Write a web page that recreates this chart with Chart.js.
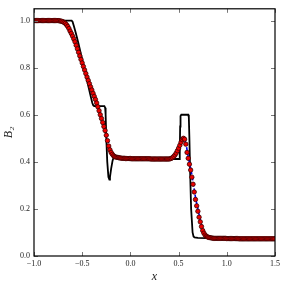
<!DOCTYPE html>
<html>
<head>
<meta charset="utf-8">
<script src="https://cdn.jsdelivr.net/npm/chart.js@4.4.1/dist/chart.umd.min.js"></script>
<style>
  html, body { margin: 0; padding: 0; background: #fff; }
  #grafico { display: block; }
</style>
</head>
<body>
<canvas id="grafico" width="288" height="288"></canvas>
<script>
// ejes
const xMin = -1.0, xMax = 1.5, xPaso = 0.5;
const yMin = 0.0, yMax = 1.05, yPaso = 0.2;

// solución de referencia (línea negra, nítida)
const negroX = [-1.0, -0.61, -0.6, -0.585, -0.565, -0.54, -0.5, -0.45, -0.41, -0.395, -0.385, -0.375,
  -0.27, -0.262, -0.257, -0.25, -0.24, -0.228, -0.218, -0.212, -0.2, -0.185, -0.175, -0.15, -0.1,
  0.0, 0.2, 0.505, 0.512, 0.516, 0.52, 0.528, 0.6, 0.606, 0.612, 0.62, 0.63, 0.645, 0.655, 0.665,
  0.7, 0.8, 1.0, 1.5];
const negroY = [1.0, 1.0, 0.995, 0.975, 0.945, 0.905, 0.835, 0.745, 0.675, 0.65, 0.64, 0.637,
  0.637, 0.63, 0.6, 0.5, 0.4, 0.335, 0.325, 0.335, 0.37, 0.405, 0.418, 0.418, 0.415,
  0.413, 0.412, 0.412, 0.43, 0.55, 0.595, 0.6, 0.6, 0.59, 0.5, 0.35, 0.2, 0.1, 0.083, 0.079,
  0.077, 0.076, 0.075, 0.075];

// línea azul discontinua
const azulX = [-1.0, -0.75, -0.7, -0.65, -0.6, -0.55, -0.5, -0.45, -0.4, -0.35, -0.3, -0.25, -0.225,
  -0.2, -0.175, -0.15, -0.1, 0.0, 0.4, 0.45, 0.5, 0.55, 0.575, 0.6, 0.625, 0.65, 0.675, 0.7,
  0.725, 0.75, 0.775, 0.8, 0.85, 0.9, 1.5];
const azulY = [1.0, 1.0, 0.996, 0.978, 0.937, 0.884, 0.824, 0.765, 0.71, 0.655, 0.59, 0.52, 0.478,
  0.445, 0.428, 0.421, 0.416, 0.414, 0.412, 0.422, 0.455, 0.497, 0.478, 0.422, 0.372, 0.315, 0.25, 0.2,
  0.153, 0.114, 0.092, 0.082, 0.076, 0.074, 0.073];

// puntos rojos
const rojoX = [
  -1.0, -0.9875, -0.975, -0.9625, -0.95, -0.9375, -0.925, -0.9125, -0.9, -0.8875,
  -0.875, -0.8625, -0.85, -0.8375, -0.825, -0.8125, -0.8, -0.7875, -0.775, -0.7625,
  -0.75, -0.7375, -0.725, -0.7125, -0.7, -0.6875, -0.675, -0.6625, -0.65, -0.6375,
  -0.625, -0.6125, -0.6, -0.5875, -0.575, -0.5625, -0.55, -0.5375, -0.525, -0.5125,
  -0.5, -0.4875, -0.475, -0.4625, -0.45, -0.4375, -0.425, -0.4125, -0.4, -0.3875,
  -0.375, -0.3625, -0.35, -0.3375, -0.325, -0.3125, -0.3, -0.2875, -0.275, -0.2625,
  -0.25, -0.2375, -0.225, -0.2125, -0.2, -0.1875, -0.175, -0.1625, -0.15, -0.1375,
  -0.125, -0.1125, -0.1, -0.0875, -0.075, -0.0625, -0.05, -0.0375, -0.025, -0.0125,
  0.0, 0.0125, 0.025, 0.0375, 0.05, 0.0625, 0.075, 0.0875, 0.1, 0.1125,
  0.125, 0.1375, 0.15, 0.1625, 0.175, 0.1875, 0.2, 0.2125, 0.225, 0.2375,
  0.25, 0.2625, 0.275, 0.2875, 0.3, 0.3125, 0.325, 0.3375, 0.35, 0.3625,
  0.375, 0.3875, 0.4, 0.4125, 0.425, 0.4375, 0.45, 0.4625, 0.475, 0.4875,
  0.5, 0.5125, 0.525, 0.5375, 0.55, 0.5625, 0.575, 0.5875, 0.6, 0.6125,
  0.625, 0.6375, 0.65, 0.6625, 0.675, 0.6875, 0.7, 0.7125, 0.725, 0.7375,
  0.75, 0.7625, 0.775, 0.7875, 0.8, 0.8125, 0.825, 0.8375, 0.85, 0.8625,
  0.875, 0.8875, 0.9, 0.9125, 0.925, 0.9375, 0.95, 0.9625, 0.975, 0.9875,
  1.0, 1.0125, 1.025, 1.0375, 1.05, 1.0625, 1.075, 1.0875, 1.1, 1.1125,
  1.125, 1.1375, 1.15, 1.1625, 1.175, 1.1875, 1.2, 1.2125, 1.225, 1.2375,
  1.25, 1.2625, 1.275, 1.2875, 1.3, 1.3125, 1.325, 1.3375, 1.35, 1.3625,
  1.375, 1.3875, 1.4, 1.4125, 1.425, 1.4375, 1.45, 1.4625, 1.475, 1.4875,
  1.5];
const rojoY = [
  1.0, 1.0, 1.0, 1.0, 1.0, 1.0, 1.0, 1.0, 1.0, 1.0,
  1.0, 1.0, 1.0, 1.0, 1.0, 1.0, 1.0, 1.0, 1.0, 1.0,
  1.0, 0.999, 0.998, 0.997, 0.995, 0.992, 0.988, 0.982, 0.975, 0.966,
  0.955, 0.945, 0.934, 0.922, 0.91, 0.895, 0.88, 0.865, 0.85, 0.835,
  0.82, 0.805, 0.79, 0.775, 0.76, 0.746, 0.732, 0.718, 0.705, 0.691,
  0.678, 0.665, 0.65, 0.634, 0.617, 0.6, 0.584, 0.567, 0.55, 0.533,
  0.513, 0.49, 0.467, 0.451, 0.44, 0.432, 0.426, 0.422, 0.42, 0.419,
  0.418, 0.417, 0.416, 0.415, 0.415, 0.415, 0.414, 0.414, 0.414, 0.414,
  0.414, 0.413, 0.413, 0.413, 0.413, 0.413, 0.413, 0.413, 0.413, 0.413,
  0.413, 0.413, 0.413, 0.413, 0.413, 0.413, 0.413, 0.412, 0.412, 0.412,
  0.412, 0.412, 0.412, 0.412, 0.412, 0.412, 0.412, 0.412, 0.412, 0.412,
  0.412, 0.412, 0.412, 0.413, 0.415, 0.418, 0.423, 0.429, 0.437, 0.447,
  0.458, 0.47, 0.483, 0.494, 0.5, 0.496, 0.475, 0.44, 0.415, 0.39,
  0.365, 0.335, 0.305, 0.272, 0.24, 0.213, 0.19, 0.165, 0.145, 0.125,
  0.108, 0.097, 0.089, 0.084, 0.081, 0.079, 0.078, 0.077, 0.076, 0.075,
  0.075, 0.075, 0.075, 0.075, 0.075, 0.075, 0.075, 0.075, 0.075, 0.075,
  0.074, 0.074, 0.074, 0.074, 0.074, 0.074, 0.074, 0.074, 0.074, 0.074,
  0.073, 0.073, 0.073, 0.073, 0.073, 0.073, 0.073, 0.073, 0.073, 0.073,
  0.073, 0.073, 0.073, 0.073, 0.073, 0.073, 0.073, 0.073, 0.073, 0.073,
  0.073, 0.073, 0.073, 0.073, 0.073, 0.073, 0.073, 0.073, 0.073, 0.073,
  0.073];

const pares = (xs, ys) => xs.map((x, i) => ({ x: x, y: ys[i] }));

// marco y marcas de los ejes hacia dentro (como matplotlib)
const marcoPlugin = {
  id: 'marco',
  afterDatasetsDraw(chart) {
    const { ctx, chartArea: a, scales } = chart;
    ctx.save();
    ctx.strokeStyle = '#777';
    ctx.lineWidth = 1;
    ctx.beginPath();
    scales.x.ticks.forEach(t => {
      const px = Math.round(scales.x.getPixelForValue(t.value)) + 0.5;
      ctx.moveTo(px, a.bottom); ctx.lineTo(px, a.bottom - 4);
      ctx.moveTo(px, a.top); ctx.lineTo(px, a.top + 4);
    });
    scales.y.ticks.forEach(t => {
      const py = Math.round(scales.y.getPixelForValue(t.value)) + 0.5;
      ctx.moveTo(a.left, py); ctx.lineTo(a.left + 4, py);
      ctx.moveTo(a.right, py); ctx.lineTo(a.right - 4, py);
    });
    ctx.stroke();
    ctx.strokeStyle = '#000';
    ctx.lineWidth = 1.2;
    ctx.strokeRect(a.left, a.top, a.right - a.left, a.bottom - a.top);
    ctx.restore();
  }
};

const fmt = v => v.toFixed(1).replace('-', '\u2212');
const fuenteTicks = { family: 'Liberation Serif', size: 8 };

new Chart(document.getElementById('grafico'), {
  type: 'line',
  data: {
    datasets: [
      {
        data: pares(rojoX, rojoY),
        showLine: false,
        pointRadius: 2.2,
        pointBackgroundColor: '#ee0000',
        pointBorderColor: '#3a0000',
        pointBorderWidth: 0.8
      },
      {
        data: pares(azulX, azulY),
        borderColor: '#0000ee',
        borderWidth: 1.6,
        borderDash: [4, 2],
        pointRadius: 0,
        cubicInterpolationMode: 'monotone'
      },
      {
        data: pares(negroX, negroY),
        borderColor: '#000',
        borderWidth: 1.8,
        pointRadius: 0,
        tension: 0
      }
    ]
  },
  options: {
    responsive: false,
    animation: false,
    devicePixelRatio: 1,
    layout: { padding: { top: 7, right: 13, left: 0, bottom: 0 } },
    plugins: { legend: { display: false }, tooltip: { enabled: false } },
    scales: {
      x: {
        type: 'linear',
        min: xMin, max: xMax,
        grid: { display: false, drawTicks: false },
        border: { display: false },
        ticks: { stepSize: xPaso, includeBounds: false, padding: 3, color: '#222', font: fuenteTicks, callback: fmt },
        title: { display: true, text: 'x', color: '#222', font: { family: 'Liberation Serif', size: 12, style: 'italic' }, padding: { top: 0, bottom: 4 } },
        afterFit: s => { s.height = 32; }
      },
      y: {
        min: yMin, max: yMax,
        grid: { display: false, drawTicks: false },
        border: { display: false },
        ticks: { stepSize: yPaso, includeBounds: false, padding: 4, color: '#222', font: fuenteTicks, callback: fmt },
        title: { display: true, text: 'B\u2082', color: '#222', font: { family: 'Liberation Serif', size: 12, style: 'italic' }, padding: { top: 2, bottom: 0 } },
        afterFit: s => { s.width = 34; }
      }
    }
  },
  plugins: [marcoPlugin]
});
</script>
</body>
</html>
